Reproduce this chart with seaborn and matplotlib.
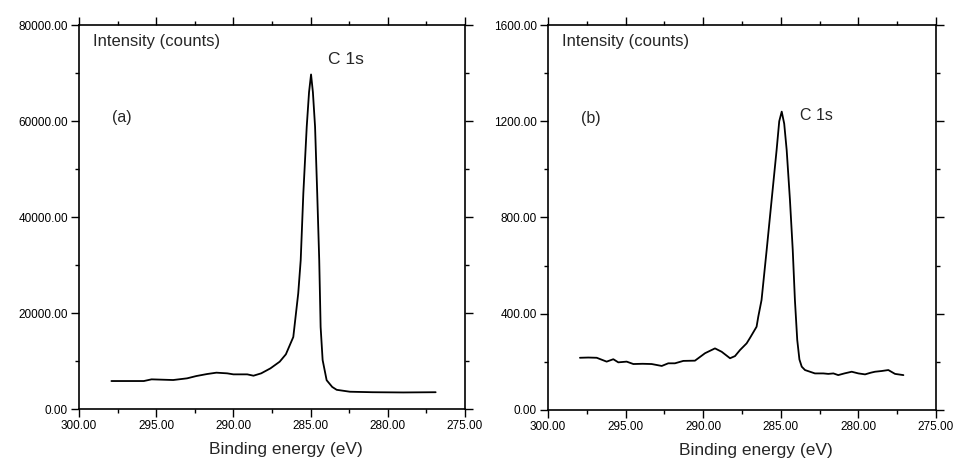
import numpy as np
import pandas as pd
import seaborn as sns
import matplotlib.pyplot as plt
from matplotlib.ticker import MultipleLocator, FormatStrFormatter

# ---------------------------------------------------------------
# Datos leidos del espectro XPS C 1s
# ---------------------------------------------------------------
energia_a = [297.9, 295.8, 295.3, 293.9, 293.0, 292.4, 291.7, 291.1, 290.4,
             290.0, 289.1, 288.7, 288.2, 287.6, 287.0, 286.6, 286.12, 285.8,
             285.64, 285.47, 285.25, 285.1, 284.97, 284.85, 284.71, 284.57,
             284.44, 284.35, 284.22, 283.96, 283.6, 283.31, 282.45, 281.0,
             279.0, 276.9]
cuentas_a = [5830, 5830, 6180, 6040, 6390, 6870, 7290, 7570, 7430,
             7220, 7220, 6940, 7430, 8470, 9860, 11400, 15000, 24100,
             31000, 44900, 58800, 66000, 69700, 66000, 58800, 44900,
             31000, 17100, 10200, 6000, 4600, 4000, 3600, 3500,
             3450, 3500]

energia_b = [297.94, 297.4, 296.86, 296.5, 296.22, 295.79, 295.47, 294.93,
             294.5, 293.9, 293.32, 292.67, 292.25, 291.82, 291.28, 290.53,
             289.88, 289.24, 288.81, 288.27, 287.95, 287.63, 287.2, 286.98,
             286.56, 286.45, 286.24, 285.91, 285.59, 285.27, 285.1, 284.94,
             284.78, 284.62, 284.41, 284.23, 284.09, 283.94, 283.8, 283.65,
             283.44, 283.12, 282.8, 282.26, 281.94, 281.61, 281.3, 280.9,
             280.43, 280.0, 279.57, 279.2, 278.93, 278.5, 278.07, 277.64,
             277.1]
cuentas_b = [217, 218, 217, 208, 201, 211, 198, 201,
             191, 192, 191, 183, 194, 194, 204, 205,
             236, 256, 242, 215, 224, 249, 277, 300,
             346, 388, 457, 665, 873, 1080, 1200, 1240,
             1190, 1080, 873, 665, 457, 291, 210, 180,
             166, 159, 152, 152, 150, 152, 145, 152,
             159, 152, 148, 155, 159, 162, 166, 150,
             145]

df_a = pd.DataFrame({"energia": energia_a, "cuentas": cuentas_a})
df_b = pd.DataFrame({"energia": energia_b, "cuentas": cuentas_b})

sns.set_style("ticks")
plt.rcParams["font.family"] = ["Liberation Sans", "DejaVu Sans"]

fig = plt.figure(figsize=(9.55, 4.63), dpi=100)
ax_a = fig.add_axes([0.0827, 0.1166, 0.4042, 0.8294])
ax_b = fig.add_axes([0.5738, 0.1145, 0.4063, 0.8315])

paneles = [
    (ax_a, df_a, 80000, 20000, 10000, "(a)", (0.692, 0.911), 12.5),
    (ax_b, df_b, 1600, 400, 200, "(b)", (0.691, 0.766), 11.5),
]

for ax, df, ymax, ymaj, ymin, etiqueta, pos_c1s, fs_c1s in paneles:
    sns.lineplot(data=df, x="energia", y="cuentas", ax=ax, color="black",
                 linewidth=1.3, estimator=None, sort=False)
    ax.set_xlim(300, 275)
    ax.set_ylim(0, ymax)
    ax.xaxis.set_major_locator(MultipleLocator(5))
    ax.xaxis.set_minor_locator(MultipleLocator(2.5))
    ax.yaxis.set_major_locator(MultipleLocator(ymaj))
    ax.yaxis.set_minor_locator(MultipleLocator(ymin))
    ax.xaxis.set_major_formatter(FormatStrFormatter("%.2f"))
    ax.yaxis.set_major_formatter(FormatStrFormatter("%.2f"))
    ax.tick_params(which="both", direction="out", top=True, right=True,
                   labelsize=8.5, width=1.0, colors="black")
    ax.tick_params(which="major", length=6, pad=2)
    ax.tick_params(which="minor", length=3)
    for lado in ["left", "right", "top", "bottom"]:
        ax.spines[lado].set_visible(True)
        ax.spines[lado].set_linewidth(1.2)
        ax.spines[lado].set_color("black")

    ax.set_ylabel("")
    ax.set_xlabel("Binding energy (eV)", fontsize=12.5)
    ax.xaxis.set_label_coords(0.535, -0.085)

    ax.text(0.037, 0.958, "Intensity (counts)", transform=ax.transAxes,
            fontsize=12, va="center", ha="left")
    ax.text(pos_c1s[0], pos_c1s[1], "C 1s", transform=ax.transAxes,
            fontsize=fs_c1s, va="center", ha="center")
    ax.text(0.11, 0.758, etiqueta, transform=ax.transAxes,
            fontsize=11.5, va="center", ha="center")

fig.savefig("out.png", dpi=100, facecolor="white")
plt.close()
